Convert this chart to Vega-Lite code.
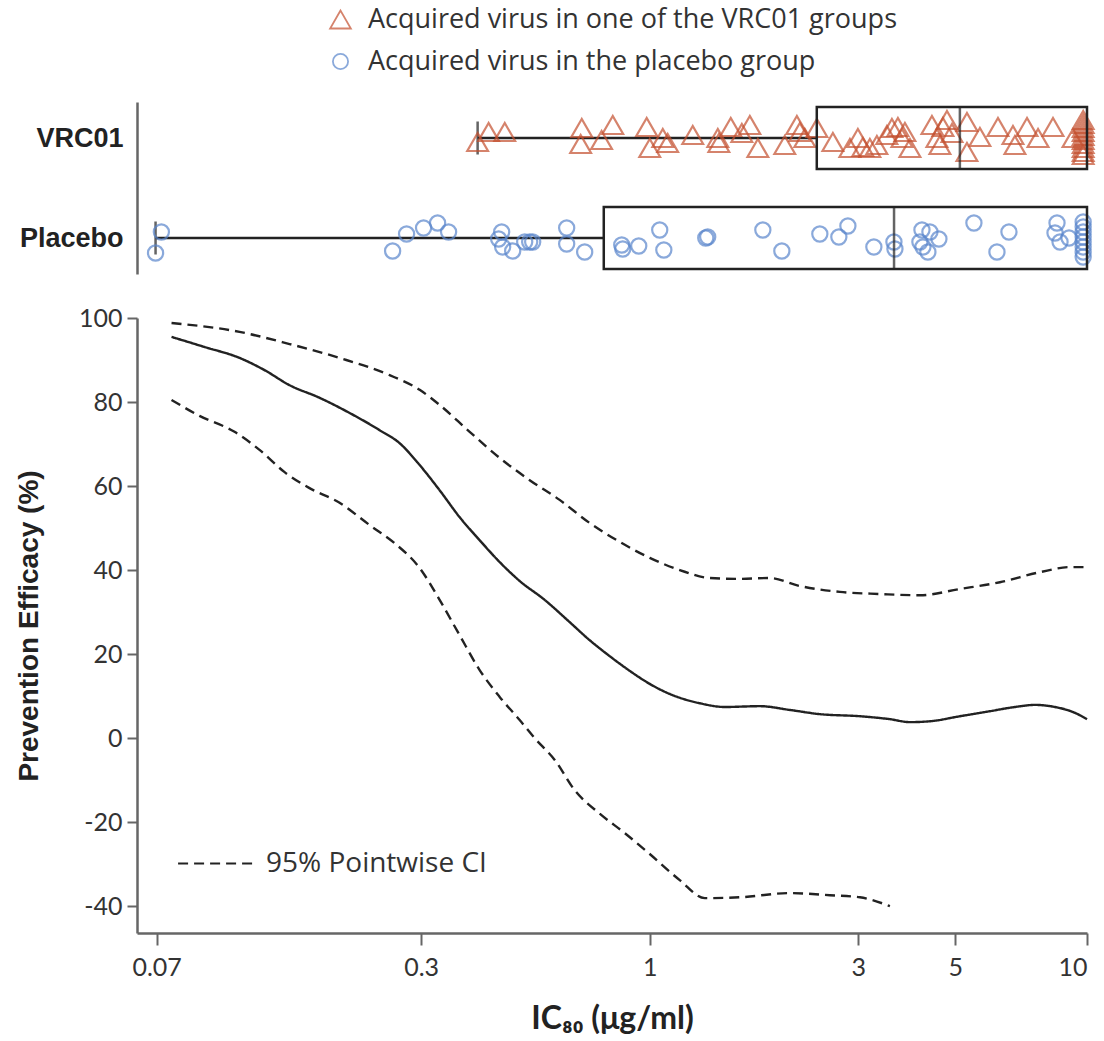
{
  "$schema": "https://vega.github.io/schema/vega-lite/v6.json",
  "padding": {"left": 15, "top": 6, "right": 10, "bottom": 0},
  "config": {
    "view": {"stroke": null},
    "font": "Lato",
    "axis": {"grid": false, "domainColor": "#666", "domainWidth": 2.5, "tickColor": "#666", "tickWidth": 2, "labelColor": "#333", "titleColor": "#222", "labelFont": "Lato", "labelFontSize": 25}
  },
  "datasets": {
    "pts": [
      {"group": "VRC01", "ic80": 0.404, "j": -4}, {"group": "VRC01", "ic80": 0.428, "j": 6}, {"group": "VRC01", "ic80": 0.466, "j": 6},
      {"group": "VRC01", "ic80": 0.699, "j": 10}, {"group": "VRC01", "ic80": 0.695, "j": -6}, {"group": "VRC01", "ic80": 0.776, "j": -2},
      {"group": "VRC01", "ic80": 0.823, "j": 13}, {"group": "VRC01", "ic80": 0.984, "j": 11}, {"group": "VRC01", "ic80": 1.0, "j": -10},
      {"group": "VRC01", "ic80": 1.071, "j": 0}, {"group": "VRC01", "ic80": 1.099, "j": -5}, {"group": "VRC01", "ic80": 1.254, "j": 3},
      {"group": "VRC01", "ic80": 1.431, "j": 0}, {"group": "VRC01", "ic80": 1.439, "j": -5}, {"group": "VRC01", "ic80": 1.532, "j": 11},
      {"group": "VRC01", "ic80": 1.624, "j": 5}, {"group": "VRC01", "ic80": 1.694, "j": 13}, {"group": "VRC01", "ic80": 1.767, "j": -10},
      {"group": "VRC01", "ic80": 2.036, "j": -7}, {"group": "VRC01", "ic80": 2.17, "j": 13}, {"group": "VRC01", "ic80": 2.204, "j": 6},
      {"group": "VRC01", "ic80": 2.263, "j": 0}, {"group": "VRC01", "ic80": 2.411, "j": 10}, {"group": "VRC01", "ic80": 2.623, "j": -4},
      {"group": "VRC01", "ic80": 2.869, "j": -10}, {"group": "VRC01", "ic80": 2.992, "j": 0}, {"group": "VRC01", "ic80": 3.072, "j": -9},
      {"group": "VRC01", "ic80": 3.187, "j": -10}, {"group": "VRC01", "ic80": 3.307, "j": -7}, {"group": "VRC01", "ic80": 3.486, "j": 3},
      {"group": "VRC01", "ic80": 3.579, "j": 10}, {"group": "VRC01", "ic80": 3.694, "j": 11}, {"group": "VRC01", "ic80": 3.773, "j": 0},
      {"group": "VRC01", "ic80": 3.833, "j": 6}, {"group": "VRC01", "ic80": 3.936, "j": -10}, {"group": "VRC01", "ic80": 4.419, "j": 13},
      {"group": "VRC01", "ic80": 4.537, "j": 0}, {"group": "VRC01", "ic80": 4.609, "j": -7}, {"group": "VRC01", "ic80": 4.683, "j": 11},
      {"group": "VRC01", "ic80": 4.783, "j": 18}, {"group": "VRC01", "ic80": 4.911, "j": 5}, {"group": "VRC01", "ic80": 5.314, "j": 16},
      {"group": "VRC01", "ic80": 5.314, "j": -14}, {"group": "VRC01", "ic80": 5.689, "j": 1}, {"group": "VRC01", "ic80": 6.257, "j": 11},
      {"group": "VRC01", "ic80": 6.771, "j": 3}, {"group": "VRC01", "ic80": 6.842, "j": -7}, {"group": "VRC01", "ic80": 7.291, "j": 11},
      {"group": "VRC01", "ic80": 7.727, "j": 0}, {"group": "VRC01", "ic80": 8.36, "j": 11}, {"group": "VRC01", "ic80": 9.29, "j": 0},
      {"group": "VRC01", "ic80": 9.8, "j": 18}, {"group": "VRC01", "ic80": 9.8, "j": 14}, {"group": "VRC01", "ic80": 9.8, "j": 10},
      {"group": "VRC01", "ic80": 9.8, "j": 6}, {"group": "VRC01", "ic80": 9.8, "j": 2}, {"group": "VRC01", "ic80": 9.8, "j": -2},
      {"group": "VRC01", "ic80": 9.8, "j": -6}, {"group": "VRC01", "ic80": 9.8, "j": -10}, {"group": "VRC01", "ic80": 9.8, "j": -14},
      {"group": "VRC01", "ic80": 9.8, "j": -17},
      {"group": "Placebo", "ic80": 0.0741, "j": -15}, {"group": "Placebo", "ic80": 0.0764, "j": 6}, {"group": "Placebo", "ic80": 0.2582, "j": -13},
      {"group": "Placebo", "ic80": 0.2779, "j": 4}, {"group": "Placebo", "ic80": 0.3039, "j": 10}, {"group": "Placebo", "ic80": 0.3272, "j": 15},
      {"group": "Placebo", "ic80": 0.3467, "j": 6}, {"group": "Placebo", "ic80": 0.4585, "j": 6}, {"group": "Placebo", "ic80": 0.4513, "j": -1},
      {"group": "Placebo", "ic80": 0.4609, "j": -9}, {"group": "Placebo", "ic80": 0.4859, "j": -13}, {"group": "Placebo", "ic80": 0.5176, "j": -4},
      {"group": "Placebo", "ic80": 0.5314, "j": -4}, {"group": "Placebo", "ic80": 0.5399, "j": -4}, {"group": "Placebo", "ic80": 0.6457, "j": 10},
      {"group": "Placebo", "ic80": 0.6457, "j": -6}, {"group": "Placebo", "ic80": 0.7099, "j": -14}, {"group": "Placebo", "ic80": 0.8628, "j": -7},
      {"group": "Placebo", "ic80": 0.8675, "j": -11}, {"group": "Placebo", "ic80": 0.9437, "j": -8}, {"group": "Placebo", "ic80": 1.054, "j": 8},
      {"group": "Placebo", "ic80": 1.077, "j": -12}, {"group": "Placebo", "ic80": 1.343, "j": 0}, {"group": "Placebo", "ic80": 1.357, "j": 1},
      {"group": "Placebo", "ic80": 1.814, "j": 8}, {"group": "Placebo", "ic80": 2.005, "j": -13}, {"group": "Placebo", "ic80": 2.449, "j": 4},
      {"group": "Placebo", "ic80": 2.707, "j": 1}, {"group": "Placebo", "ic80": 2.839, "j": 12}, {"group": "Placebo", "ic80": 3.255, "j": -9},
      {"group": "Placebo", "ic80": 3.618, "j": -4}, {"group": "Placebo", "ic80": 3.637, "j": -11}, {"group": "Placebo", "ic80": 4.193, "j": 8},
      {"group": "Placebo", "ic80": 4.373, "j": 6}, {"group": "Placebo", "ic80": 4.148, "j": -4}, {"group": "Placebo", "ic80": 4.215, "j": -9},
      {"group": "Placebo", "ic80": 4.326, "j": -14}, {"group": "Placebo", "ic80": 4.585, "j": -1}, {"group": "Placebo", "ic80": 5.513, "j": 15},
      {"group": "Placebo", "ic80": 6.224, "j": -14}, {"group": "Placebo", "ic80": 6.63, "j": 6}, {"group": "Placebo", "ic80": 8.539, "j": 15},
      {"group": "Placebo", "ic80": 8.449, "j": 5}, {"group": "Placebo", "ic80": 8.676, "j": -4}, {"group": "Placebo", "ic80": 9.096, "j": 0},
      {"group": "Placebo", "ic80": 9.8, "j": 16}, {"group": "Placebo", "ic80": 9.8, "j": 11}, {"group": "Placebo", "ic80": 9.8, "j": 6},
      {"group": "Placebo", "ic80": 9.8, "j": 1}, {"group": "Placebo", "ic80": 9.8, "j": -4}, {"group": "Placebo", "ic80": 9.8, "j": -9},
      {"group": "Placebo", "ic80": 9.8, "j": -14}, {"group": "Placebo", "ic80": 9.8, "j": -19}
    ],
    "box": [
      {"group": "VRC01", "min": 0.404, "q1": 2.41, "median": 5.12, "q3": 10},
      {"group": "Placebo", "min": 0.0741, "q1": 0.785, "median": 3.62, "q3": 10}
    ],
    "curve": [
      {"s": "est", "ic80": 0.0806, "pe": 95.5}, {"s": "est", "ic80": 0.0959, "pe": 93.1}, {"s": "est", "ic80": 0.1153, "pe": 90.5},
      {"s": "est", "ic80": 0.1315, "pe": 87.6}, {"s": "est", "ic80": 0.1501, "pe": 84.0}, {"s": "est", "ic80": 0.1758, "pe": 81.0},
      {"s": "est", "ic80": 0.2058, "pe": 77.4}, {"s": "est", "ic80": 0.2411, "pe": 73.3}, {"s": "est", "ic80": 0.2679, "pe": 70.2},
      {"s": "est", "ic80": 0.2977, "pe": 65.0}, {"s": "est", "ic80": 0.3307, "pe": 59.0}, {"s": "est", "ic80": 0.3674, "pe": 52.6},
      {"s": "est", "ic80": 0.4083, "pe": 47.1}, {"s": "est", "ic80": 0.4537, "pe": 41.9}, {"s": "est", "ic80": 0.5041, "pe": 37.4},
      {"s": "est", "ic80": 0.575, "pe": 32.9}, {"s": "est", "ic80": 0.656, "pe": 27.6}, {"s": "est", "ic80": 0.7288, "pe": 23.3},
      {"s": "est", "ic80": 0.81, "pe": 19.5}, {"s": "est", "ic80": 0.9001, "pe": 16.0}, {"s": "est", "ic80": 1.0, "pe": 12.9},
      {"s": "est", "ic80": 1.111, "pe": 10.5}, {"s": "est", "ic80": 1.301, "pe": 8.3}, {"s": "est", "ic80": 1.484, "pe": 7.4},
      {"s": "est", "ic80": 1.785, "pe": 7.6}, {"s": "est", "ic80": 2.091, "pe": 6.7}, {"s": "est", "ic80": 2.449, "pe": 5.7},
      {"s": "est", "ic80": 3.024, "pe": 5.2}, {"s": "est", "ic80": 3.542, "pe": 4.5}, {"s": "est", "ic80": 3.936, "pe": 3.8},
      {"s": "est", "ic80": 4.373, "pe": 4.0}, {"s": "est", "ic80": 5.122, "pe": 5.2}, {"s": "est", "ic80": 5.998, "pe": 6.4},
      {"s": "est", "ic80": 6.842, "pe": 7.4}, {"s": "est", "ic80": 7.603, "pe": 7.9}, {"s": "est", "ic80": 8.449, "pe": 7.4},
      {"s": "est", "ic80": 9.387, "pe": 6.0}, {"s": "est", "ic80": 10, "pe": 4.5},
      {"s": "upper", "ic80": 0.0806, "pe": 98.8}, {"s": "upper", "ic80": 0.1153, "pe": 96.7}, {"s": "upper", "ic80": 0.1501, "pe": 93.8},
      {"s": "upper", "ic80": 0.1953, "pe": 90.5}, {"s": "upper", "ic80": 0.2541, "pe": 86.4}, {"s": "upper", "ic80": 0.2977, "pe": 82.9},
      {"s": "upper", "ic80": 0.3307, "pe": 79.3}, {"s": "upper", "ic80": 0.3874, "pe": 72.9}, {"s": "upper", "ic80": 0.4537, "pe": 66.7},
      {"s": "upper", "ic80": 0.5314, "pe": 61.4}, {"s": "upper", "ic80": 0.6222, "pe": 56.7}, {"s": "upper", "ic80": 0.7288, "pe": 51.2},
      {"s": "upper", "ic80": 0.8539, "pe": 46.7}, {"s": "upper", "ic80": 1.0, "pe": 42.9}, {"s": "upper", "ic80": 1.171, "pe": 40.0},
      {"s": "upper", "ic80": 1.372, "pe": 38.1}, {"s": "upper", "ic80": 1.607, "pe": 37.9}, {"s": "upper", "ic80": 1.882, "pe": 38.1},
      {"s": "upper", "ic80": 2.204, "pe": 36.2}, {"s": "upper", "ic80": 2.722, "pe": 34.8}, {"s": "upper", "ic80": 3.36, "pe": 34.3},
      {"s": "upper", "ic80": 4.148, "pe": 34.0}, {"s": "upper", "ic80": 5.122, "pe": 35.5}, {"s": "upper", "ic80": 6.323, "pe": 37.1},
      {"s": "upper", "ic80": 7.806, "pe": 39.5}, {"s": "upper", "ic80": 9.145, "pe": 40.7}, {"s": "upper", "ic80": 10, "pe": 40.7},
      {"s": "lower", "ic80": 0.0806, "pe": 80.5}, {"s": "lower", "ic80": 0.0934, "pe": 76.7}, {"s": "lower", "ic80": 0.1123, "pe": 72.9},
      {"s": "lower", "ic80": 0.1281, "pe": 68.6}, {"s": "lower", "ic80": 0.1462, "pe": 63.3}, {"s": "lower", "ic80": 0.1667, "pe": 59.5},
      {"s": "lower", "ic80": 0.1953, "pe": 56.0}, {"s": "lower", "ic80": 0.2288, "pe": 50.7}, {"s": "lower", "ic80": 0.2609, "pe": 46.4},
      {"s": "lower", "ic80": 0.2977, "pe": 40.5}, {"s": "lower", "ic80": 0.3307, "pe": 32.9}, {"s": "lower", "ic80": 0.3674, "pe": 24.5},
      {"s": "lower", "ic80": 0.4083, "pe": 16.2}, {"s": "lower", "ic80": 0.4537, "pe": 9.8}, {"s": "lower", "ic80": 0.5041, "pe": 4.3},
      {"s": "lower", "ic80": 0.5454, "pe": 0}, {"s": "lower", "ic80": 0.6063, "pe": -5.2}, {"s": "lower", "ic80": 0.6735, "pe": -12.4},
      {"s": "lower", "ic80": 0.7683, "pe": -18}, {"s": "lower", "ic80": 0.8765, "pe": -22.6}, {"s": "lower", "ic80": 1.0, "pe": -27.6},
      {"s": "lower", "ic80": 1.171, "pe": -33.8}, {"s": "lower", "ic80": 1.336, "pe": -38.1}, {"s": "lower", "ic80": 1.607, "pe": -37.9},
      {"s": "lower", "ic80": 2.091, "pe": -36.9}, {"s": "lower", "ic80": 2.582, "pe": -37.4}, {"s": "lower", "ic80": 3.024, "pe": -37.9},
      {"s": "lower", "ic80": 3.542, "pe": -40}
    ]
  },
  "spacing": 32,
  "vconcat": [
    {
      "width": 950,
      "height": 172,
      "layer": [
        {
          "data": {"name": "box"},
          "mark": {"type": "rule", "color": "#222", "strokeWidth": 2.5},
          "encoding": {
            "x": {"field": "min", "type": "quantitative", "scale": {"type": "log", "domain": [0.0672, 10], "nice": false}, "axis": null},
            "x2": {"field": "q1"},
            "y": {"field": "group", "type": "nominal", "scale": {"type": "point", "domain": ["VRC01", "Placebo"], "padding": 0.36}, "axis": {"title": null, "ticks": false, "labelFont": "Liberation Sans", "labelFontWeight": "bold", "labelFontSize": 27, "labelColor": "#222", "labelPadding": 14}}
          }
        },
        {
          "data": {"name": "box"},
          "mark": {"type": "tick", "color": "#222", "thickness": 2.5, "size": 33},
          "encoding": {
            "x": {"field": "min", "type": "quantitative"},
            "y": {"field": "group", "type": "nominal"}
          }
        },
        {
          "data": {"name": "pts"},
          "mark": {"type": "point", "filled": false, "strokeWidth": 2.2},
          "encoding": {
            "x": {"field": "ic80", "type": "quantitative"},
            "y": {"field": "group", "type": "nominal"},
            "yOffset": {"field": "j", "type": "quantitative", "scale": {"domain": [-20, 20], "range": [20, -20]}},
            "size": {"field": "group", "type": "nominal", "scale": {"domain": ["VRC01", "Placebo"], "range": [430, 230]}, "legend": null},
            "color": {"field": "group", "type": "nominal", "scale": {"domain": ["VRC01", "Placebo"], "range": ["#c4502f", "#5a86cc"]},
              "legend": {"orient": "none", "legendX": 190, "legendY": -96, "title": null, "labelFont": "Open Sans", "labelFontSize": 27, "labelColor": "#333", "labelLimit": 0, "symbolSize": 260, "symbolStrokeWidth": 1.8, "rowPadding": 14, "labelOffset": 14,
                "labelExpr": "datum.label == 'VRC01' ? 'Acquired virus in one of the VRC01 groups' : 'Acquired virus in the placebo group'"}},
            "shape": {"field": "group", "type": "nominal", "scale": {"domain": ["VRC01", "Placebo"], "range": ["triangle-up", "circle"]}}
          }
        },
        {
          "data": {"name": "box"},
          "mark": {"type": "bar", "size": 62, "fillOpacity": 0, "stroke": "#222", "strokeWidth": 2.5},
          "encoding": {
            "x": {"field": "q1", "type": "quantitative"},
            "x2": {"field": "q3"},
            "y": {"field": "group", "type": "nominal"}
          }
        },
        {
          "data": {"name": "box"},
          "mark": {"type": "tick", "color": "#222", "thickness": 2.5, "size": 62},
          "encoding": {
            "x": {"field": "median", "type": "quantitative"},
            "y": {"field": "group", "type": "nominal"}
          }
        }
      ]
    },
    {
      "width": 950,
      "height": 615,
      "layer": [
        {
          "mark": {"type": "rule", "strokeDash": [7, 4], "color": "#555", "strokeWidth": 2},
          "encoding": {"y": {"datum": 0, "type": "quantitative"}}
        },
        {
          "data": {"name": "curve"},
          "mark": {"type": "line", "color": "#222", "strokeWidth": 2.4, "interpolate": "monotone"},
          "encoding": {
            "x": {"field": "ic80", "type": "quantitative", "scale": {"type": "log", "domain": [0.0672, 10], "nice": false},
              "axis": {"values": [0.0745, 0.3, 1, 3, 5, 10], "labelExpr": "datum.value < 0.1 ? '0.07' : format(datum.value, '~g')", "tickSize": 12, "labelPadding": 10, "title": "IC₈₀ (μg/ml)", "titleFont": "Lato", "titleFontWeight": "bold", "titleFontSize": 32, "titlePadding": 23}},
            "y": {"field": "pe", "type": "quantitative", "scale": {"domain": [-46.4, 100], "nice": false, "zero": false},
              "axis": {"values": [-40, -20, 0, 20, 40, 60, 80, 100], "labelExpr": "'' + datum.value", "tickSize": 10, "labelPadding": 5, "title": "Prevention Efficacy (%)", "titleFont": "Liberation Sans", "titleFontWeight": "bold", "titleFontSize": 28, "titlePadding": 34.5}},
            "strokeDash": {"field": "s", "type": "nominal", "scale": {"domain": ["est", "upper", "lower"], "range": [[1, 0], [10, 6], [10, 6]]},
              "legend": {"values": ["upper"], "orient": "none", "legendX": 40, "legendY": 723, "title": null, "labelExpr": "'95% Pointwise CI'", "labelFont": "Open Sans", "labelFontSize": 28, "labelColor": "#333", "labelLimit": 0, "symbolType": "stroke", "symbolSize": 5600, "symbolStrokeWidth": 2, "symbolStrokeColor": "#222", "labelOffset": 12}}
          }
        }
      ]
    }
  ]
}
